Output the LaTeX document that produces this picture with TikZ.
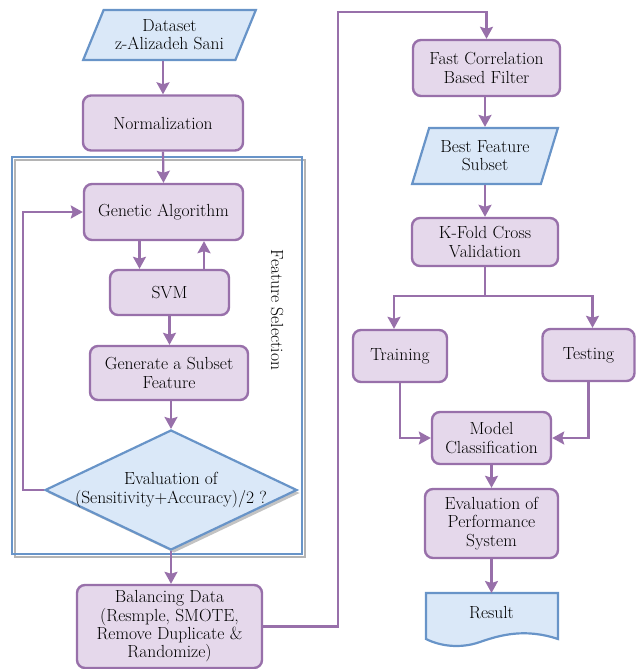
\documentclass[tikz,border=0pt]{standalone}
\usepackage{fontspec}
\usetikzlibrary{arrows.meta,shapes.geometric,shadows}
\definecolor{pedge}{RGB}{152,112,170}
\definecolor{pfill}{RGB}{229,216,235}
\definecolor{bedge}{RGB}{104,148,200}
\definecolor{bfill}{RGB}{218,232,248}
\definecolor{shad}{RGB}{180,180,180}
\tikzset{
  txt/.style={font=\fontsize{17.5}{18.3}\selectfont, align=center, text=black},
  proc/.style={txt, draw=pedge, fill=pfill, line width=2.4pt, rounded corners=8pt, inner sep=0pt},
  io/.style={txt, draw=bedge, fill=bfill, line width=2.2pt, trapezium, trapezium stretches=true, inner sep=0pt},
  arr/.style={draw=pedge, line width=2.2pt, -{Stealth[length=12pt,width=13pt,inset=2pt]}},
  ln/.style={draw=pedge, line width=2.2pt},
}
\begin{document}
\begin{tikzpicture}[x=1pt,y=-1pt]
\useasboundingbox (0,0) rectangle (636,669);
% feature selection frame
\fill[white] (12,157) rectangle (302,554);
\draw[shad, line width=2pt] (15,160) rectangle (305,557);
\draw[bedge, line width=2pt] (12,157) rectangle (302,554);
\node[txt, rotate=-90] (fslabel) at (277,310) {Feature Selection};

\node[io, trapezium left angle=61, trapezium right angle=119, minimum width=173pt, minimum height=50pt] (data) at (169.5,35) {Dataset\\z-Alizadeh Sani};
\node[proc, minimum width=160pt, minimum height=55pt] (norm) at (163,123) {Normalization};
\node[proc, minimum width=159pt, minimum height=56pt] (ga) at (163.5,212) {Genetic Algorithm};
\node[proc, minimum width=119pt, minimum height=45pt] (svm) at (169.5,292.5) {SVM};
\node[proc, minimum width=158pt, minimum height=54pt] (gen) at (169,373) {Generate a Subset\\Feature};
\node[shape=diamond, draw=bedge, fill=bfill, line width=2.2pt, minimum width=252pt, minimum height=120pt, inner sep=0pt,
      drop shadow={shadow xshift=3pt, shadow yshift=-3pt, fill=shad, opacity=0.8}] (dia) at (171,490) {};
\node[txt] (diatxt) at (171,490) {Evaluation of\\(Sensitivity+Accuracy)/2 ?};
\node[proc, minimum width=185pt, minimum height=83pt] (bal) at (169.5,626.5) {Balancing Data\\(Resmple, SMOTE,\\Remove Duplicate \&\\Randomize)};

\node[proc, minimum width=147pt, minimum height=56pt] (fcbf) at (486.5,68) {Fast Correlation\\Based Filter};
\node[io, trapezium left angle=66, trapezium right angle=114, minimum width=146pt, minimum height=56pt] (best) at (485,156) {Best Feature\\Subset};
\node[proc, minimum width=146pt, minimum height=48pt] (kfold) at (485,242) {K-Fold Cross\\Validation};
\node[proc, minimum width=94pt, minimum height=52pt] (train) at (400,356) {Training};
\node[proc, minimum width=92pt, minimum height=52pt] (test) at (588.5,355) {Testing};
\node[proc, minimum width=119pt, minimum height=52pt] (model) at (491.5,438) {Model\\Classification};
\node[proc, minimum width=133pt, minimum height=69pt] (evalp) at (491.5,523.5) {Evaluation of\\Performance\\System};
% result document shape
\draw[draw=bedge, fill=bfill, line width=2.2pt] (426,593) -- (558,593) -- (558,639)
   .. controls (525,628) and (500,635) .. (480,642) .. controls (460,649) and (440,646) .. (426,639) -- cycle;
\node[txt] (result) at (491.5,613) {Result};

% connectors
\draw[arr] (data.south -| norm.north) -- (norm.north);
\draw[arr] (norm.south) -- (ga.north);
\draw[arr] ([xshift=-30pt]svm.north |- ga.south) -- ([xshift=-30pt]svm.north);
\draw[arr] ([xshift=34.5pt]svm.north) -- ([xshift=34.5pt]svm.north |- ga.south);
\draw[arr] (svm.south) -- (svm.south |- gen.north);
\draw[arr] (gen.south -| dia.north) -- (dia.north);
\coordinate (loopc) at (23,490);
\draw[arr] (dia.west) -- (loopc) |- (ga.west);
\draw[arr] (dia.south) -- (dia.south |- bal.north);
\coordinate (c1) at (338,12);
\draw[arr] (bal.east) -| (c1) -| (fcbf.north);
\draw[arr] (fcbf.south -| best.north) -- (best.north);
\draw[arr] (best.south) -- (best.south |- kfold.north);
\coordinate (split) at (485,296);
\draw[ln] (kfold.south) -- (split);
\draw[arr] (split) -| ([xshift=-6pt]train.north);
\draw[arr] (split) -| ([xshift=4pt]test.north);
\draw[arr] (train.south) |- (model.west);
\draw[arr] (test.south) |- (model.east);
\draw[arr] (model.south) -- (evalp.north);
\coordinate (resultTop) at (491.5,593);
\draw[arr] (evalp.south) -- (resultTop);
\end{tikzpicture}
\end{document}
